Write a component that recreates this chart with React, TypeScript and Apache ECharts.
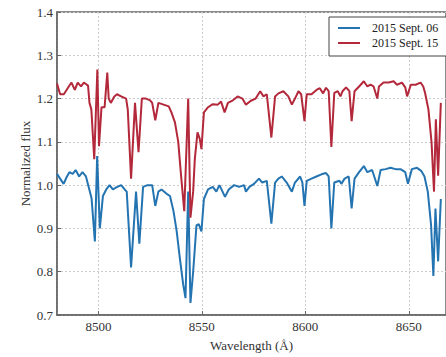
import React, { useEffect, useRef } from "react";
import * as echarts from "echarts";

const seriesNames = ["2015 Sept. 06", "2015 Sept. 15"];

const blueWave = [
  8480, 8481.5, 8483.2, 8484.8, 8486, 8487.6, 8489, 8490.7, 8492.3, 8494, 8495.9, 8496.7, 8498.3, 8499.4,
  8500.7, 8502.2, 8503.8, 8505.4, 8507, 8508.6, 8511, 8512.7, 8513.7, 8515.8, 8518.2, 8519.8, 8521.6, 8523.7,
  8526, 8527.5, 8529, 8530.5, 8533, 8534.6, 8536.3, 8537.8, 8539.4, 8541, 8542.1, 8543.4, 8544.5, 8545.8,
  8547.4, 8548.5, 8549.8, 8551, 8553, 8555.3, 8557, 8558.5, 8560, 8561.2, 8563, 8565.6, 8568, 8570.4,
  8571.3, 8573, 8575.2, 8577.6, 8579.2, 8581.4, 8583.6, 8585.4, 8587, 8588.6, 8591, 8593.5, 8595, 8597.5,
  8598.6, 8599.6, 8600.7, 8603, 8605.4, 8607.8, 8610, 8611.3, 8612.6, 8614, 8616.5, 8617.4, 8619, 8621,
  8622.4, 8623.8, 8626, 8628.3, 8630, 8632.3, 8634.8, 8636.4, 8638.8, 8641.2, 8643.6, 8646, 8648.3, 8649.6,
  8651.5, 8654, 8656, 8657.6, 8659.2, 8660.8, 8661.9, 8662.9, 8664.2, 8665.5,
];
const blueFlux = [
  1.026, 1.015, 1.003, 1.02, 1.03, 1.026, 1.035, 1.02, 1.03, 1.02, 0.985, 0.97, 0.87, 1.067,
  0.9, 0.975, 0.99, 1.0, 0.99, 0.995, 1.0, 0.99, 0.985, 0.81, 0.985, 0.865, 0.996, 1.0,
  1.0, 0.952, 0.985, 0.99, 0.98, 0.975, 0.94, 0.895, 0.83, 0.77, 0.739, 0.985, 0.728, 0.8,
  0.907, 0.91, 0.893, 0.968, 0.99, 0.996, 0.985, 1.0, 0.985, 0.973, 0.99, 1.0, 0.996, 1.0,
  0.985, 0.996, 1.003, 1.015, 1.006, 1.01, 0.911, 1.006, 1.015, 1.02, 1.006, 0.985, 1.006, 1.02,
  1.006, 0.952, 1.01, 1.015, 1.02, 1.025, 1.028, 1.02, 0.9, 1.006, 1.01, 1.003, 1.015, 1.02,
  0.946, 1.015, 1.03, 1.044, 1.03, 1.035, 0.998, 1.035, 1.037, 1.04, 1.037, 1.037, 1.03, 1.003,
  1.037, 1.04, 1.033, 1.02, 0.985, 0.907, 0.79, 0.946, 0.824, 0.968,
];

const redWave = [
  8480, 8481.5, 8483.3, 8485.7, 8487, 8488.6, 8490, 8491.6, 8493, 8495, 8495.7, 8496.6, 8498, 8499.5,
  8500.3, 8501.5, 8503, 8504.3, 8505, 8506, 8507.7, 8509, 8511, 8513.4, 8514.2, 8515.8, 8517.7, 8519.4,
  8521, 8523, 8525, 8526, 8527.5, 8529, 8531.5, 8534, 8535.3, 8537, 8538.6, 8540, 8541.5, 8543.4,
  8544.5, 8545.8, 8546.6, 8547.9, 8549, 8549.8, 8551, 8553, 8555.3, 8557.7, 8559.3, 8561, 8562.6, 8565,
  8567.3, 8569.6, 8571.3, 8573.7, 8576, 8578.2, 8579.8, 8581.4, 8583.6, 8585.4, 8587, 8589.4, 8591.8, 8593.5,
  8595, 8596.7, 8598, 8599.6, 8600.7, 8603, 8605.4, 8607, 8608.6, 8610, 8611.3, 8612.6, 8614, 8615.7,
  8617, 8618, 8619.7, 8621.3, 8622.4, 8623.8, 8626, 8628.3, 8630, 8631.5, 8633, 8634.8, 8635.6, 8637.8,
  8640.3, 8642.7, 8644.3, 8646.7, 8648.3, 8649.2, 8651, 8653.3, 8655.7, 8657, 8657.9, 8659.5, 8661, 8662.2,
  8663.1, 8664.2, 8665.5,
];
const redFlux = [
  1.235, 1.21, 1.21, 1.228, 1.237, 1.22, 1.237, 1.228, 1.237, 1.23, 1.19, 1.175, 1.06, 1.267,
  1.09, 1.18, 1.18, 1.26, 1.2, 1.19, 1.205, 1.21, 1.205, 1.2, 1.175, 1.015, 1.19, 1.076,
  1.2, 1.2, 1.196, 1.19, 1.15, 1.19, 1.186, 1.182, 1.168, 1.145, 1.1, 1.02, 0.94, 1.2,
  0.925, 0.985, 1.06, 1.122, 1.107, 1.083, 1.168, 1.18, 1.187, 1.186, 1.193, 1.168, 1.19, 1.196,
  1.205, 1.2, 1.186, 1.195, 1.2, 1.217, 1.205, 1.21, 1.11, 1.205, 1.212, 1.217, 1.205, 1.186,
  1.2, 1.217, 1.21, 1.148, 1.21, 1.21, 1.22, 1.224, 1.212, 1.225, 1.217, 1.088, 1.213, 1.217,
  1.205, 1.217, 1.226, 1.217, 1.148, 1.217, 1.228, 1.24, 1.228, 1.232, 1.228, 1.2, 1.228, 1.237,
  1.237, 1.24, 1.232, 1.237, 1.226, 1.205, 1.232, 1.232, 1.237, 1.228, 1.213, 1.175, 1.1, 0.985,
  1.152, 1.022, 1.19,
];

const colors = ["#2474b2", "#b3283a"];
const serif = "'Liberation Serif', 'DejaVu Serif', serif";

export default function App() {
  const ref = useRef<HTMLDivElement>(null);
  useEffect(() => {
    if (!ref.current) return;
    const chart = echarts.init(ref.current, undefined, { renderer: "svg" });
    const toPairs = (w: number[], f: number[]) => w.map((x, i) => [x, f[i]]);
    chart.setOption({
      animation: false,
      backgroundColor: "#fff",
      color: colors,
      grid: {
        left: 57,
        top: 12,
        bottom: 40,
        right: -5,
        containLabel: false,
        show: true,
        borderColor: "#666",
        borderWidth: 1.5,
        backgroundColor: "transparent",
      },
      legend: {
        orient: "vertical",
        left: 329,
        top: 17,
        padding: [5, 14, 7, 9],
        icon: "rect",
        itemWidth: 22,
        itemHeight: 2,
        itemGap: 3,
        backgroundColor: "#fff",
        borderColor: "#444",
        borderWidth: 1,
        borderRadius: 0,
        data: seriesNames,
        textStyle: { fontFamily: serif, fontSize: 12, color: "#222", padding: [0, 0, 0, 7] },
      },
      xAxis: {
        type: "value",
        min: 8480,
        max: 8668,
        splitNumber: 4,
        name: "Wavelength (Å)",
        nameLocation: "middle",
        nameGap: 24,
        nameMoveOverlap: false,
        nameTextStyle: { fontFamily: serif, fontSize: 13, color: "#333" },
        axisLine: { show: true, lineStyle: { color: "#666", width: 1.5 } },
        axisTick: { show: true, inside: true, length: 4, lineStyle: { color: "#666" } },
        axisLabel: {
          fontFamily: serif,
          fontSize: 13,
          color: "#333",
          margin: 5,
          showMinLabel: false,
          showMaxLabel: false,
          formatter: (v: number) => String(v),
        },
        splitLine: { show: true, lineStyle: { color: "#ccc", type: [2, 2], width: 1 } },
      },
      yAxis: {
        type: "value",
        min: 0.7,
        max: 1.4,
        interval: 0.1,
        name: "Normalized flux",
        nameLocation: "middle",
        nameGap: 25,
        nameMoveOverlap: false,
        nameTextStyle: { fontFamily: serif, fontSize: 13, color: "#333" },
        axisLine: { show: true, lineStyle: { color: "#666", width: 1.5 } },
        axisTick: { show: true, inside: true, length: 4, lineStyle: { color: "#666" } },
        axisLabel: {
          fontFamily: serif,
          fontSize: 13,
          color: "#333",
          margin: 4,
          formatter: (v: number) => v.toFixed(1),
        },
        splitLine: { show: true, lineStyle: { color: "#ccc", type: [2, 2], width: 1 } },
      },
      series: [
        {
          name: seriesNames[0],
          type: "line",
          symbol: "none",
          lineStyle: { width: 2, color: colors[0] },
          data: toPairs(blueWave, blueFlux),
        },
        {
          name: seriesNames[1],
          type: "line",
          symbol: "none",
          lineStyle: { width: 2, color: colors[1] },
          data: toPairs(redWave, redFlux),
        },
      ],
    });
    return () => chart.dispose();
  }, []);
  return (
    <div
      ref={ref}
      style={{ position: "fixed", left: 0, top: 0, width: 446, height: 357, background: "#fff" }}
    />
  );
}
